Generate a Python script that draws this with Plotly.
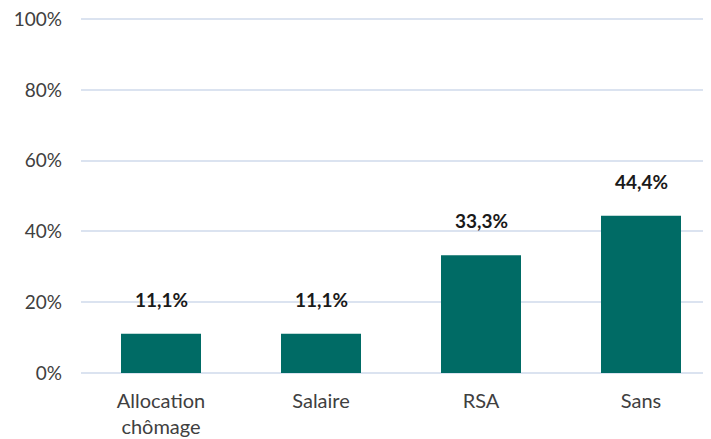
import plotly.graph_objects as go

categories = ["Allocation<br>chômage", "Salaire", "RSA", "Sans"]
values = [11.1, 11.1, 33.3, 44.4]
labels = ["11,1%", "11,1%", "33,3%", "44,4%"]
y_ticks = [0, 20, 40, 60, 80, 100]
y_tick_labels = ["0%", "20%", "40%", "60%", "80%", "100%"]

fig = go.Figure()
fig.add_trace(go.Bar(
    x=categories, y=values, width=0.5,
    marker=dict(color="#006b65", line=dict(width=0)),
    hoverinfo="skip",
))
for c, v, t in zip(categories, values, labels):
    fig.add_annotation(x=c, y=v, text=t, showarrow=False, yanchor="bottom",
                       yshift=21, font=dict(family="Lato", size=19, color="#1a1a1a", weight="bold"))

fig.update_layout(
    width=711, height=439,
    margin=dict(l=73, r=8, t=10, b=74),
    paper_bgcolor="white", plot_bgcolor="white",
    showlegend=False,
    font=dict(family="Lato", size=19, color="#404040"),
    xaxis=dict(range=[-0.5, 3.4375], showgrid=False, zeroline=False, showline=False,
               ticks="", ticklabelstandoff=14, fixedrange=True, automargin=False,
               tickfont=dict(size=20)),
    yaxis=dict(range=[0, 100.3], tickvals=y_ticks, ticktext=y_tick_labels,
               showgrid=True, gridcolor="#dbe3f0", gridwidth=1.5, zeroline=True,
               zerolinecolor="#dbe3f0", zerolinewidth=1.5, showline=False,
               ticks="", ticklabelstandoff=18, fixedrange=True, automargin=False,
               ticklabeloverflow="allow"),
)
fig.write_html("out.html")
